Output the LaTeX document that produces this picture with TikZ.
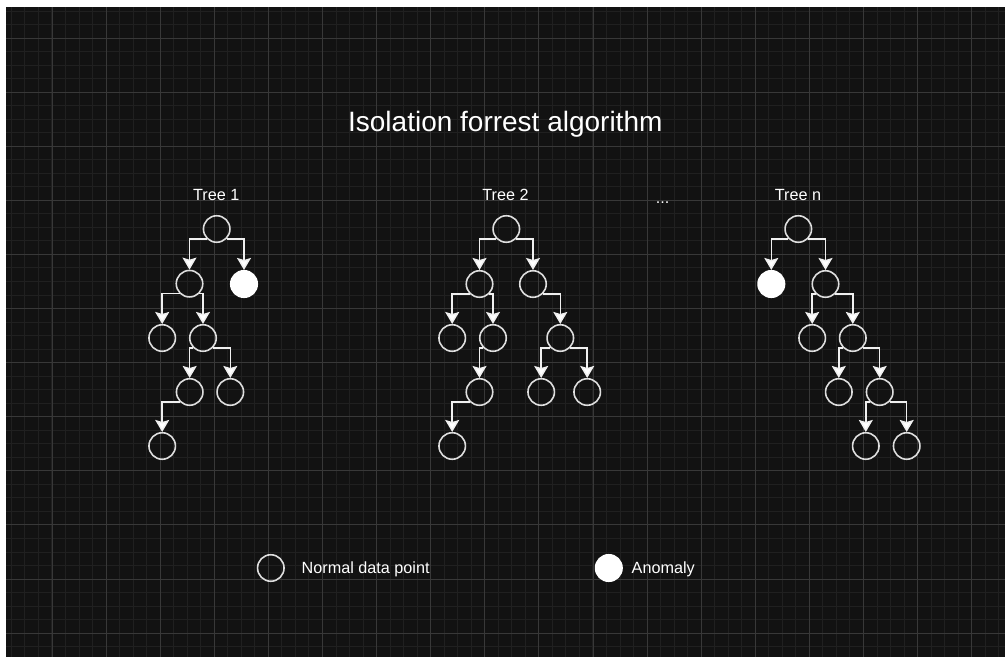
\documentclass[tikz,border=0pt]{standalone}
\usepackage{fontspec}
\setmainfont{Liberation Sans}
\usetikzlibrary{arrows.meta}
\definecolor{bgdark}{RGB}{18,18,18}
\definecolor{gridminor}{RGB}{32,32,32}
\definecolor{gridmajor}{RGB}{56,56,56}
\definecolor{strokec}{RGB}{222,222,222}
\definecolor{edgec}{RGB}{240,240,240}
\tikzset{
  pt/.style={circle, draw=strokec, line width=1.6pt, minimum size=26.5pt, inner sep=0pt},
  anom/.style={pt, draw=white, fill=white},
  edge/.style={draw=edgec, line width=1.5pt, -{Stealth[length=12pt, width=14pt, inset=2pt, fill=white]}},
  lbl/.style={text=white, font=\fontsize{16.2}{19}\selectfont, inner sep=0pt},
  ttl/.style={text=white, font=\fontsize{28}{33}\selectfont, inner sep=0pt},
  minorl/.style={draw=gridminor, line width=1pt},
  majorl/.style={draw=gridmajor, line width=1pt}
}
\begin{document}
\begin{tikzpicture}[x=1pt, y=-1pt]
\useasboundingbox (0,0) rectangle (1005,657);
\fill[white] (0,0) rectangle (1005,657);
\fill[bgdark] (6,7) rectangle (1005,657);
\foreach \i in {0,...,73} { \draw[minorl] ({11.4+\i*13.525},7) -- ++(0,650); }
\foreach \j in {0,...,47} { \draw[minorl] (6,{11+\j*13.525}) -- ++(999,0); }
\foreach \k in {1,...,18} { \draw[majorl] ({-2.1+\k*54.1},7) -- ++(0,650); }
\foreach \k in {0,...,11} { \draw[majorl] (6,{38+\k*54.1}) -- ++(999,0); }

\node[ttl, anchor=base] (title) at (505.3,131) {Isolation forrest algorithm};

% Tree 1
\node[lbl, anchor=base] (l1) at (216.2,200.5) {Tree 1};
\node[pt] (t1r) at (216.7,229) {};
\node[pt] (t1a) at (189.5,283.7) {};
\node[anom] (t1x) at (244,284) {};
\node[pt] (t1b) at (162.2,338) {};
\node[pt] (t1c) at (203,338) {};
\node[pt] (t1d) at (189.7,392) {};
\node[pt] (t1e) at (230.3,392) {};
\node[pt] (t1f) at (162.2,446) {};
\draw[edge] (t1r.-135) -| (t1a);
\draw[edge] (t1r.-45) -| (t1x);
\draw[edge] (t1a.-135) -| (t1b);
\draw[edge] (t1a.-45) -| (t1c);
\draw[edge] (t1c.-135) -| (t1d);
\draw[edge] (t1c.-45) -| (t1e);
\draw[edge] (t1d.-135) -| (t1f);

% Tree 2
\node[lbl, anchor=base] (l2) at (505.5,200.5) {Tree 2};
\node[pt] (t2r) at (506.3,229) {};
\node[pt] (t2a) at (479.5,284) {};
\node[pt] (t2b) at (533,284) {};
\node[pt] (t2c) at (452.2,338) {};
\node[pt] (t2d) at (493,338) {};
\node[pt] (t2e) at (479.5,392) {};
\node[pt] (t2f) at (452.2,446) {};
\node[pt] (t2g) at (560.3,338) {};
\node[pt] (t2h) at (541.2,392) {};
\node[pt] (t2i) at (587.2,392) {};
\draw[edge] (t2r.-135) -| (t2a);
\draw[edge] (t2r.-45) -| (t2b);
\draw[edge] (t2a.-135) -| (t2c);
\draw[edge] (t2a.-45) -| (t2d);
\draw[edge] (t2d.-135) -| (t2e);
\draw[edge] (t2e.-135) -| (t2f);
\draw[edge] (t2b.-45) -| (t2g);
\draw[edge] (t2g.-135) -| (t2h);
\draw[edge] (t2g.-45) -| (t2i);

\node[lbl, anchor=base] (dots) at (662.5,203.5) {...};

% Tree n
\node[lbl, anchor=base] (l3) at (798,200.5) {Tree n};
\node[pt] (t3r) at (798.3,229) {};
\node[anom] (t3x) at (771.3,284) {};
\node[pt] (t3a) at (825.5,284) {};
\node[pt] (t3b) at (812.2,338) {};
\node[pt] (t3c) at (852.8,338) {};
\node[pt] (t3d) at (838.8,392) {};
\node[pt] (t3e) at (879.7,392) {};
\node[pt] (t3f) at (865.8,446) {};
\node[pt] (t3g) at (906.7,446) {};
\draw[edge] (t3r.-135) -| (t3x);
\draw[edge] (t3r.-45) -| (t3a);
\draw[edge] (t3a.-135) -| (t3b);
\draw[edge] (t3a.-45) -| (t3c);
\draw[edge] (t3c.-135) -| (t3d);
\draw[edge] (t3c.-45) -| (t3e);
\draw[edge] (t3e.-135) -| (t3f);
\draw[edge] (t3e.-45) -| (t3g);

% Legend
\node[pt] (lgn) at (270.8,568) {};
\node[lbl, anchor=base west] (lgnt) at (301.5,573) {Normal data point};
\node[anom] (lga) at (608.8,568) {};
\node[lbl, anchor=base west] (lgat) at (631.5,573) {Anomaly};
\end{tikzpicture}
\end{document}
